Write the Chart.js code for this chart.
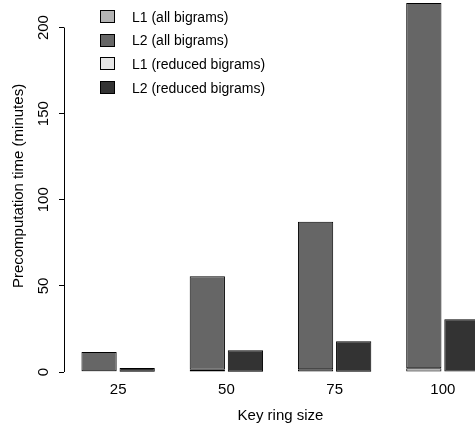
<!DOCTYPE html>
<html>
<head>
<meta charset="utf-8">
<script src="https://cdn.jsdelivr.net/npm/chart.js@4"></script>
<style>
  html, body { margin: 0; padding: 0; overflow: hidden; background: #fff; }
  #wrap { position: relative; width: 497px; height: 427px; }
  #legend { position: absolute; left: 100px; top: 5px; font: 14px "Liberation Sans", Arial, sans-serif; color: #000; }
  #legend .row { display: flex; align-items: center; height: 23.6px; }
  #legend .box { width: 13px; height: 11px; border: 1px solid #000; margin-right: 17px; box-sizing: content-box; }
</style>
</head>
<body>
<div id="wrap">
  <canvas id="chart"></canvas>
  <div id="legend"></div>
</div>
<script>
// values (minutes)
const sizes = ['25', '50', '75', '100'];
const l1All = [0.5, 1.3, 1.6, 2.2];
const l2All = [11.1, 54.3, 85.7, 212.0];
const l1Reduced = [0.1, 0.2, 0.2, 0.3];
const l2Reduced = [2.2, 12.4, 17.6, 30.3];
const yTicks = [0, 50, 100, 150, 200];

const font = '"Liberation Sans", Arial, Helvetica, sans-serif';
Chart.defaults.font.family = font;
Chart.defaults.color = '#000';

// R style axis line: only from first to last tick
const yAxisLine = {
  id: 'yAxisLine',
  afterDraw(chart) {
    const y = chart.scales.y;
    const ctx = chart.ctx;
    const x = Math.round(chart.chartArea.left) + 0.5;
    ctx.save();
    ctx.strokeStyle = '#000';
    ctx.lineWidth = 1;
    ctx.beginPath();
    ctx.moveTo(x, y.getPixelForValue(yTicks[0]));
    ctx.lineTo(x, y.getPixelForValue(yTicks[yTicks.length - 1]));
    ctx.stroke();
    ctx.restore();
  }
};

const ctx = document.getElementById('chart').getContext('2d');
const chart = new Chart(ctx, {
  type: 'bar',
  data: {
    labels: sizes,
    datasets: [
      { label: 'L1 (all bigrams)', data: l1All, stack: 'all', backgroundColor: '#b3b3b3' },
      { label: 'L2 (all bigrams)', data: l2All, stack: 'all', backgroundColor: '#666666' },
      { label: 'L1 (reduced bigrams)', data: l1Reduced, stack: 'reduced', backgroundColor: '#e6e6e6' },
      { label: 'L2 (reduced bigrams)', data: l2Reduced, stack: 'reduced', backgroundColor: '#333333' }
    ].map(d => Object.assign(d, {
      borderColor: '#000',
      borderWidth: 1,
      borderSkipped: false,
      inflateAmount: 0,
      categoryPercentage: 0.704,
      barPercentage: 0.925
    }))
  },
  options: {
    responsive: true,
    maintainAspectRatio: false,
    animation: false,
    layout: { padding: 0 },
    plugins: {
      legend: { display: false },
      tooltip: { enabled: false }
    },
    scales: {
      x: {
        stacked: true,
        grid: { display: false, drawTicks: false },
        border: { display: false },
        ticks: { font: { size: 15 }, padding: 9 },
        title: { display: true, text: 'Key ring size', font: { size: 15 }, padding: { top: 0, bottom: 2 } },
        afterFit: s => { s.height = 55; }
      },
      y: {
        stacked: true,
        min: 0,
        max: 216,
        afterBuildTicks: s => { s.ticks = yTicks.map(v => ({ value: v })); },
        grid: { drawOnChartArea: false, drawTicks: true, tickLength: 5, color: '#000' },
        border: { display: false },
        ticks: { font: { size: 15 }, minRotation: 90, maxRotation: 90, crossAlign: 'center', padding: 3 },
        title: { display: true, text: 'Precomputation time (minutes)', font: { size: 15 }, padding: { top: 10, bottom: 0 } },
        afterFit: s => { s.width = 64; s.paddingTop = 0; s.paddingBottom = 0; }
      }
    }
  },
  plugins: [yAxisLine]
});

// legend as html, built from the datasets
const legend = document.getElementById('legend');
chart.data.datasets.forEach(d => {
  const row = document.createElement('div');
  row.className = 'row';
  row.innerHTML = `<span class="box" style="background:${d.backgroundColor}"></span><span>${d.label}</span>`;
  legend.appendChild(row);
});
</script>
</body>
</html>
